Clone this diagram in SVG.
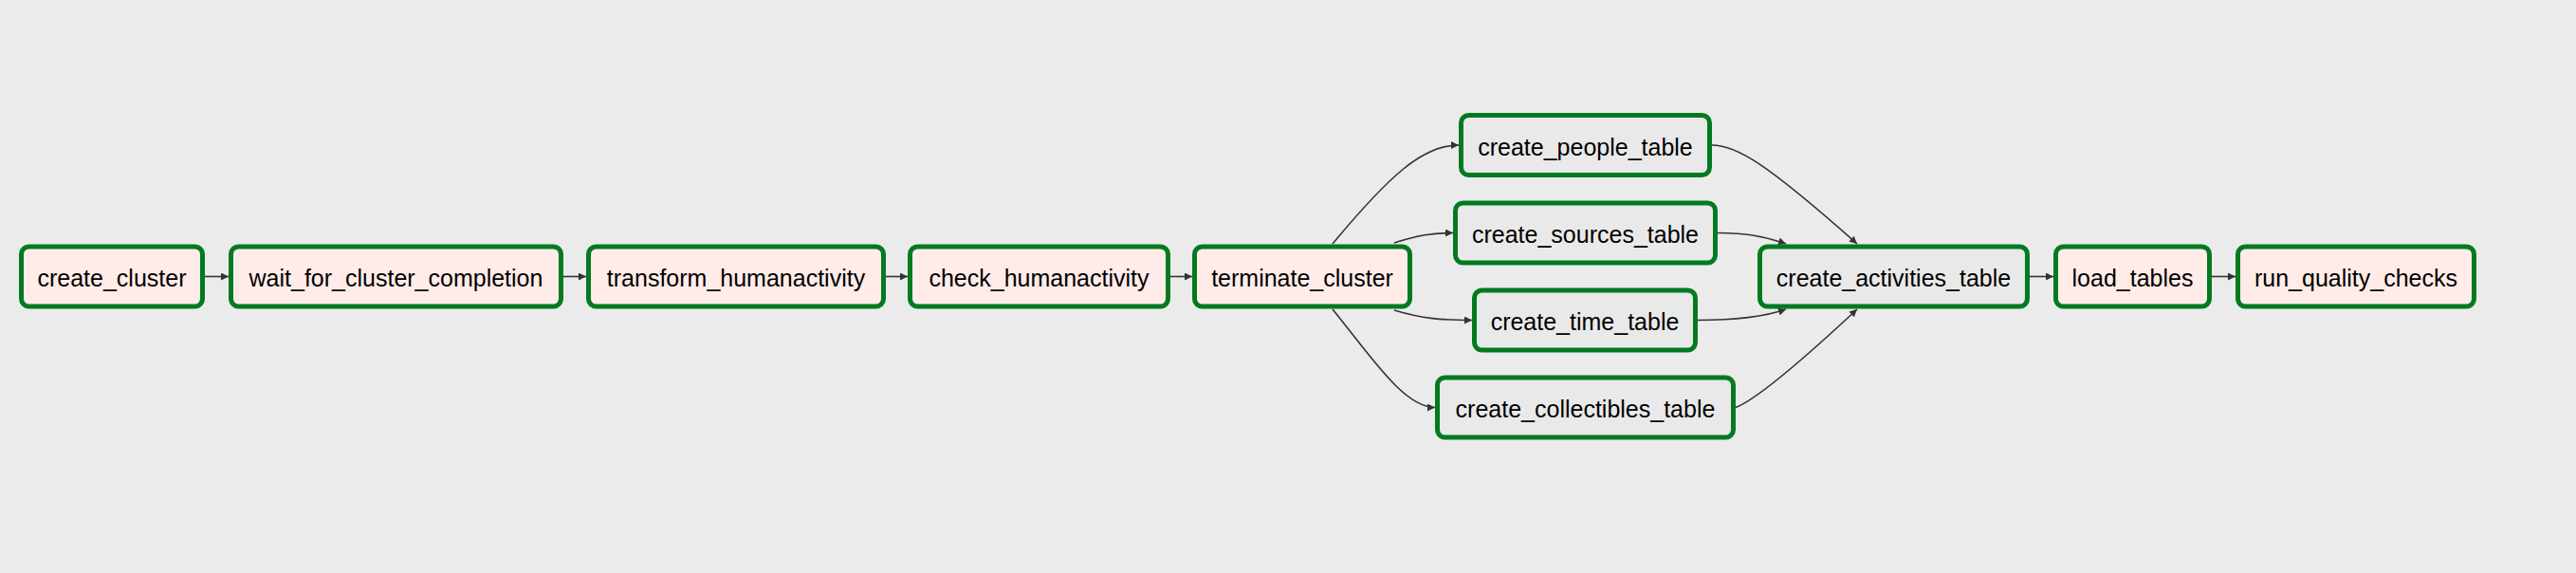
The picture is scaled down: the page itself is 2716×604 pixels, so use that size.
<svg xmlns="http://www.w3.org/2000/svg" width="2716" height="604" viewBox="0 0 2716 604">
<style>
.bg{fill:#ebebeb}
.node rect{stroke:#027a1f;stroke-width:5}
.pink rect{fill:#ffebe8}
.gray rect{fill:#e9e9e9}
.node text{font-family:"Liberation Sans",Arial,Helvetica,sans-serif;font-size:25px;fill:#000;text-anchor:middle}
.edges path{fill:none;stroke:#333;stroke-width:1.6}
</style>
<defs>
<marker id="arr" markerUnits="userSpaceOnUse" markerWidth="9" markerHeight="8" refX="8" refY="4" orient="auto">
<path d="M0,0 L8,4 L0,8 z" fill="#333"/>
</marker>
</defs>
<rect class="bg" x="0" y="0" width="2716" height="604"/>
<g class="edges">
<path d="M216,291.5 L241,291.5" marker-end="url(#arr)"/>
<path d="M594,291.5 L618,291.5" marker-end="url(#arr)"/>
<path d="M934,291.5 L957,291.5" marker-end="url(#arr)"/>
<path d="M1234,291.5 L1257,291.5" marker-end="url(#arr)"/>
<path d="M1405,257 C1465,185 1500,153 1538,153" marker-end="url(#arr)"/>
<path d="M1470,256 C1495,248 1510,245.5 1532,245.5" marker-end="url(#arr)"/>
<path d="M1470,327 C1500,336 1520,337.5 1552,337.5" marker-end="url(#arr)"/>
<path d="M1405,326 C1445,375 1480,429.5 1513,429.5" marker-end="url(#arr)"/>
<path d="M1805,153 C1830,153 1860,170 1958,257" marker-end="url(#arr)"/>
<path d="M1811,245.5 C1840,245.5 1860,249 1883,257" marker-end="url(#arr)"/>
<path d="M1790,337.5 C1830,337.5 1860,334 1883,326" marker-end="url(#arr)"/>
<path d="M1830,429.5 C1850,422 1900,380 1958,326" marker-end="url(#arr)"/>
<path d="M2140,291.5 L2165,291.5" marker-end="url(#arr)"/>
<path d="M2332,291.5 L2357,291.5" marker-end="url(#arr)"/>
</g>
<g id="create_cluster" class="node pink"><rect x="22.5" y="260" width="191" height="63" rx="8"/><text x="118" y="302">create_cluster</text></g>
<g id="wait_for_cluster_completion" class="node pink"><rect x="243.5" y="260" width="348" height="63" rx="8"/><text x="417.5" y="302">wait_for_cluster_completion</text></g>
<g id="transform_humanactivity" class="node pink"><rect x="620.5" y="260" width="311" height="63" rx="8"/><text x="776" y="302">transform_humanactivity</text></g>
<g id="check_humanactivity" class="node pink"><rect x="959.5" y="260" width="272" height="63" rx="8"/><text x="1095.5" y="302">check_humanactivity</text></g>
<g id="terminate_cluster" class="node pink"><rect x="1259.5" y="260" width="227" height="63" rx="8"/><text x="1373" y="302">terminate_cluster</text></g>
<g id="create_people_table" class="node gray"><rect x="1540.5" y="121.5" width="262" height="63" rx="8"/><text x="1671.5" y="163.5">create_people_table</text></g>
<g id="create_sources_table" class="node gray"><rect x="1534.5" y="214" width="274" height="63" rx="8"/><text x="1671.5" y="256">create_sources_table</text></g>
<g id="create_time_table" class="node gray"><rect x="1554.5" y="306" width="233" height="63" rx="8"/><text x="1671" y="348">create_time_table</text></g>
<g id="create_collectibles_table" class="node gray"><rect x="1515.5" y="398" width="312" height="63" rx="8"/><text x="1671.5" y="440">create_collectibles_table</text></g>
<g id="create_activities_table" class="node gray"><rect x="1855.5" y="260" width="282" height="63" rx="8"/><text x="1996.5" y="302">create_activities_table</text></g>
<g id="load_tables" class="node pink"><rect x="2167.5" y="260" width="162" height="63" rx="8"/><text x="2248.5" y="302">load_tables</text></g>
<g id="run_quality_checks" class="node pink"><rect x="2359.5" y="260" width="249" height="63" rx="8"/><text x="2484" y="302">run_quality_checks</text></g>
</svg>
